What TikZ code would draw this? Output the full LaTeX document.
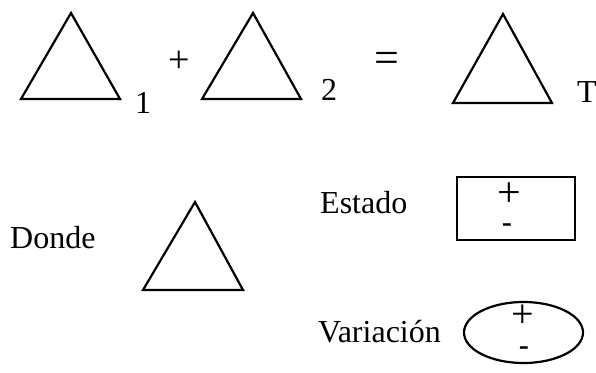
\documentclass[tikz,border=0pt]{standalone}
\usepackage{fontspec}
\setmainfont{Liberation Serif}
\newfontfamily\arialfont{Liberation Sans}
\begin{document}
\begin{tikzpicture}[x=1pt,y=-1pt,
  tri/.style={draw=black,line width=2.2pt,line join=miter},
  lbl/.style={inner sep=0pt,font=\fontsize{32}{36}\selectfont},
  sym/.style={inner sep=0pt,font=\fontsize{38}{42}\selectfont},
  frame/.style={draw=black,line width=2.2pt}]
\useasboundingbox (0,0) rectangle (596,372);
% triangles
\draw[tri] (71,13) -- (21,99) -- (120,99) -- cycle;
\draw[tri] (253,13) -- (202,99) -- (301,99) -- cycle;
\draw[tri] (503,14) -- (453,103) -- (552,103) -- cycle;
\draw[tri] (195,202) -- (143,290) -- (243,290) -- cycle;
% labels top
\node[lbl,anchor=base west] (one) at (135,113) {1};
\node[sym,anchor=center] (plus) at (179,62) {+};
\node[lbl,anchor=base west] (two) at (321,100) {2};
\node[sym,font=\fontsize{44}{48}\selectfont,anchor=center] (eq) at (387,62) {=};
\node[lbl,anchor=base west] (tee) at (577,102) {T};
% bottom
\node[lbl,anchor=base west] (donde) at (10,248) {Donde};
\node[lbl,anchor=base west] (estado) at (320,213) {Estado};
\node[lbl,anchor=base west] (variacion) at (318,342) {Variación};
\draw[frame] (457,177) rectangle (575,240);
\node[sym,font=\fontsize{42}{46}\selectfont,anchor=center] (bplus) at (509,195) {+};
\node[inner sep=0pt,font=\arialfont\fontsize{32}{36}\selectfont,anchor=center] (bminus) at (507,229) {-};
\draw[frame] (523.5,332.5) ellipse [x radius=59.5,y radius=30.5];
\node[sym,font=\fontsize{40}{44}\selectfont,anchor=center] (eplus) at (523,316) {+};
\node[inner sep=0pt,font=\arialfont\fontsize{32}{36}\selectfont,anchor=center] (eminus) at (524,352) {-};
\end{tikzpicture}
\end{document}
